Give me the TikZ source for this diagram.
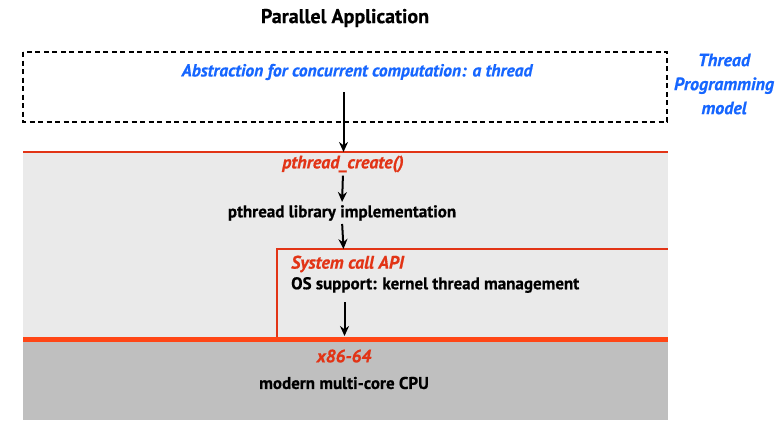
\documentclass[tikz,border=0pt]{standalone}
\usepackage{fontspec}
\setmainfont{PT Sans}[BoldFeatures={FakeBold=0.6}, BoldItalicFeatures={FakeBold=0.6}]
\usetikzlibrary{arrows.meta}

\definecolor{modelblue}{RGB}{22,102,255}
\definecolor{apired}{RGB}{226,52,22}
\definecolor{isared}{RGB}{255,70,22}
\definecolor{swgray}{RGB}{234,234,234}
\definecolor{hwgray}{RGB}{191,191,191}

\tikzset{
  arr/.style={-{Stealth[length=10pt,width=9pt]}, line width=2pt, black},
  lbl/.style={font=\bfseries\fontsize{17}{20}\selectfont, inner sep=0pt},
  apilbl/.style={font=\bfseries\itshape\fontsize{18}{20}\selectfont, text=apired, inner sep=0pt}
}

\begin{document}
\begin{tikzpicture}[x=1pt,y=-1pt]
    \useasboundingbox (0,0) rectangle (776,431);

    %layers
    \fill [swgray] (23,152) rectangle (668,339);
    \fill [hwgray] (23,339) rectangle (668,420);
    \draw [black, dashed, dash pattern=on 5pt off 3.5pt, line width=1.8pt] (23,52) rectangle (667,122);
    \draw [apired, line width=2pt] (23,152) -- (668,152);
    \draw [apired, line width=2.4pt] (277,339) -- (277,249) -- (668,249);
    \draw [isared, line width=5pt] (23,339.5) -- (668,339.5);

    %labels
    \node [font=\bfseries\fontsize{20}{24}\selectfont] (title) at (345,18) {Parallel Application};
    \node [font=\bfseries\itshape\fontsize{17.5}{22}\selectfont, text=modelblue] (abstr) at (357,72) {Abstraction for concurrent computation: a thread};
    \node [font=\bfseries\itshape\fontsize{18}{24}\selectfont, text=modelblue, align=center] (model) at (724,84) {Thread\\Programming\\model};
    \node [apilbl] (create) at (343,164) {pthread\_create()};
    \node [lbl] (lib) at (342,213) {pthread library implementation};
    \node [apilbl, anchor=west] (sysapi) at (291,264) {System call API};
    \node [lbl, anchor=west] (ossup) at (291,285) {OS support: kernel thread management};
    \node [apilbl] (isa) at (344,356) {x86-64};
    \node [lbl] (cpu) at (344,383) {modern multi-core CPU};

    %calls
    \coordinate (t1) at (343.5,92);
    \coordinate (t2) at (343.5,152);
    \coordinate (t3) at (343.5,249);
    \coordinate (t4) at (344.5,302);
    \coordinate (t5) at (344.5,336);
    \draw [arr] (t1) -- (t2);
    \draw [arr, shorten <=3pt, shorten >=3pt] (create.south) -- (lib.north);
    \draw [arr, shorten <=3pt] (lib.south) -- (t3);
    \draw [arr] (t4) -- (t5);
\end{tikzpicture}
\end{document}
